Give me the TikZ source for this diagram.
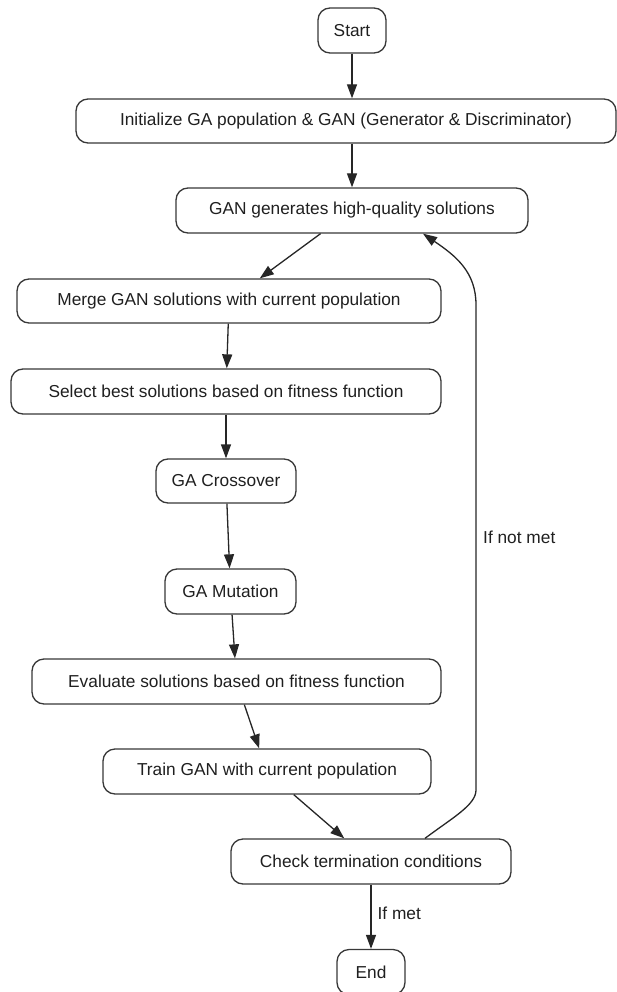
\documentclass[tikz,border=0pt]{standalone}
\usepackage{fontspec}
\setmainfont{Liberation Sans}
\usetikzlibrary{arrows.meta,calc}
\begin{document}
\begin{tikzpicture}[x=1pt,y=-1pt,
  box/.style={draw=black!78, line width=1.3pt, rounded corners=12pt, inner sep=0pt,
    minimum height=45pt, text=black!88, font=\fontsize{17.3}{20}\selectfont, align=center},
  arr/.style={draw=black!85, line width=1.3pt, -{Triangle[length=14pt,width=10pt]}},
  lbl/.style={text=black!88, font=\fontsize{17.3}{20}\selectfont, inner sep=0pt}]
\useasboundingbox (0,0) rectangle (617,992);
\node[box, minimum width=68pt] (start) at (352,30.5) {Start};
\node[box, minimum width=540pt, minimum height=44pt] (init) at (346,121) {Initialize GA population \& GAN (Generator \& Discriminator)};
\node[box, minimum width=352pt] (gan) at (352,210.5) {GAN generates high-quality solutions};
\node[box, minimum width=424pt, minimum height=44pt] (merge) at (229,301) {Merge GAN solutions with current population};
\node[box, minimum width=430pt] (select) at (226,391.5) {Select best solutions based on fitness function};
\node[box, minimum width=140pt, minimum height=44pt] (cross) at (226,481) {GA Crossover};
\node[box, minimum width=131pt] (mut) at (230.5,591.5) {GA Mutation};
\node[box, minimum width=409pt] (eval) at (236.5,681.5) {Evaluate solutions based on fitness function};
\node[box, minimum width=328pt] (train) at (267,771.5) {Train GAN with current population};
\node[box, minimum width=280pt] (check) at (371,861.5) {Check termination conditions};
\node[box, minimum width=68pt] (end) at (371,972) {End};

\draw[arr] (start) -- (start |- init.north);
\draw[arr] (init.south -| start) -- (gan);
\draw[arr] (gan) -- (merge);
\draw[arr] (merge) -- (select);
\draw[arr] (select) -- (cross);
\draw[arr] (cross) -- (mut);
\draw[arr] (mut) -- (eval);
\draw[arr] (eval) -- (train);
\draw[arr] (train) -- (check);
\draw[arr] (check) -- (end) node[lbl, pos=0.45, anchor=west, xshift=6pt] (met) {If met};
\coordinate (lb) at (476,790);
\coordinate (lt) at (476,305);
\draw[arr] ([xshift=54pt]check.north) .. controls (452,818) and (476,805) .. (lb)
  -- (lt) .. controls (476,272) and (456,256) .. ([xshift=71pt]gan.south);
\node[lbl, anchor=west] (notmet) at (483,537) {If not met};
\end{tikzpicture}
\end{document}
